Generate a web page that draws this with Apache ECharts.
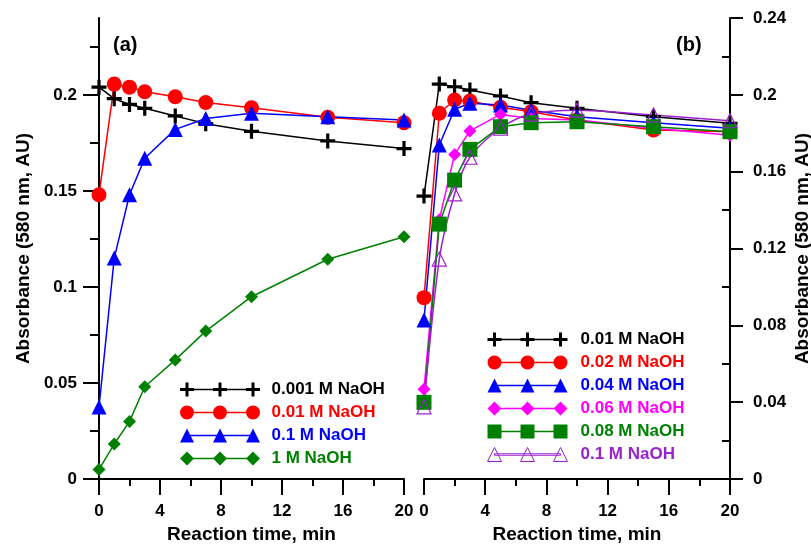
<!DOCTYPE html>
<html>
<head>
<meta charset="utf-8">
<script src="https://cdn.jsdelivr.net/npm/echarts@6/dist/echarts.min.js"></script>
<style>
  html, body { margin: 0; padding: 0; background: #fff; }
  #chart { width: 811px; height: 544px; }
</style>
</head>
<body>
<div id="chart"></div>
<script>
// reaction times (min), same for every run
var times = [0, 1, 2, 3, 5, 7, 10, 15, 20];

// panel (a)
var a_0001 = [0.204, 0.198, 0.195, 0.193, 0.189, 0.185, 0.181, 0.176, 0.172];
var a_001 = [0.148, 0.2056, 0.204, 0.2016, 0.199, 0.196, 0.1933, 0.1883, 0.1855];
var a_01 = [0.0375, 0.115, 0.148, 0.167, 0.182, 0.1877, 0.1904, 0.1886, 0.1869];
var a_1 = [0.005, 0.0182, 0.030, 0.048, 0.062, 0.077, 0.0949, 0.1144, 0.1261];

// panel (b)
var b_001 = [0.1473, 0.2056, 0.2042, 0.2025, 0.1994, 0.1959, 0.193, 0.1886, 0.1852];
var b_002 = [0.0944, 0.1904, 0.1973, 0.1968, 0.1935, 0.1912, 0.1869, 0.1817, 0.1808];
var b_004 = [0.0828, 0.1739, 0.1925, 0.1956, 0.1947, 0.192, 0.1886, 0.1855, 0.1826];
var b_006 = [0.0467, 0.135, 0.169, 0.1812, 0.1898, 0.1877, 0.1869, 0.1826, 0.179];
var b_008 = [0.0399, 0.1327, 0.1556, 0.1716, 0.1834, 0.1855, 0.186, 0.1834, 0.1808];
var b_01 = [0.0376, 0.1145, 0.1484, 0.1675, 0.1826, 0.19, 0.192, 0.1895, 0.1865];

// tick values
var leftMajor = [0, 0.05, 0.1, 0.15, 0.2];
var leftMinor = [0.025, 0.075, 0.125, 0.175, 0.225];
var rightMinor = [0.02, 0.06, 0.1, 0.14, 0.18, 0.22];

var FONT = 'Liberation Sans, Arial, sans-serif';
var purple = '#9a22cc';

var toPairs = function (vals) {
    return vals.map(function (v, i) { return [times[i], v]; });
};

// legend icons: line with three markers (80 x 14 box)
var iconPath = function (kind) {
    var s = 'path://M7,6.25H73V7.75H7Z';
    [7, 40, 73].forEach(function (c) {
        if (kind === 'plus') {
            s += 'M' + (c - 7) + ',5.5H' + (c + 7) + 'V8.5H' + (c - 7) + 'Z';
            s += 'M' + (c - 1.5) + ',0H' + (c + 1.5) + 'V14H' + (c - 1.5) + 'Z';
        } else if (kind === 'circle') {
            s += 'M' + (c - 7) + ',7A7,7 0 1,1 ' + (c + 7) + ',7A7,7 0 1,1 ' + (c - 7) + ',7Z';
        } else if (kind === 'triangle') {
            s += 'M' + c + ',0L' + (c + 7) + ',14L' + (c - 7) + ',14Z';
        } else if (kind === 'diamond') {
            s += 'M' + c + ',0L' + (c + 7) + ',7L' + c + ',14L' + (c - 7) + ',7Z';
        } else if (kind === 'rect') {
            s += 'M' + (c - 7) + ',0H' + (c + 7) + 'V14H' + (c - 7) + 'Z';
        }
    });
    return s;
};

var plusSymbol = 'path://M0,5.5H14V8.5H0Z M5.5,0H8.5V14H5.5Z';

var mkSeries = function (name, vals, color, symbol, size, grid, open) {
    return {
        name: name,
        type: 'line',
        xAxisIndex: grid,
        yAxisIndex: grid === 0 ? 0 : 2,
        data: toPairs(vals),
        symbol: symbol,
        symbolSize: size,
        smooth: open ? 0.3 : false,
        clip: false,
        lineStyle: { color: color, width: 1.5 },
        itemStyle: open
            ? { color: 'rgba(255,255,255,0)', borderColor: color, borderWidth: 1.2 }
            : { color: color, borderWidth: 0 }
    };
};

var legendItem = function (name, color, kind, open) {
    return {
        name: name,
        icon: iconPath(kind),
        itemStyle: open
            ? { color: 'rgba(255,255,255,0)', borderColor: color, borderWidth: 1 }
            : { color: color, borderWidth: 0 },
        textStyle: { color: color }
    };
};

var axisLine = { show: true, onZero: false, lineStyle: { color: '#000', width: 2 } };
var noLine = { show: false, onZero: false };
var nameStyle = { color: '#000', fontFamily: FONT, fontWeight: 'bold', fontSize: 19 };
var labelStyle = { color: '#000', fontFamily: FONT, fontWeight: 'bold', fontSize: 17 };

var xAxisFor = function (grid) {
    return {
        type: 'value', gridIndex: grid, min: 0, max: 20, interval: 4,
        name: 'Reaction time, min', nameLocation: 'middle', nameGap: 42,
        nameTextStyle: nameStyle,
        axisLine: axisLine,
        axisTick: { length: 16, lineStyle: { width: 2, color: '#000' } },
        minorTick: { show: true, splitNumber: 2, length: 7, lineStyle: { width: 2, color: '#000' } },
        axisLabel: Object.assign({ margin: 24 }, labelStyle),
        splitLine: { show: false }
    };
};

var legendBase = {
    orient: 'vertical',
    selectedMode: false,
    padding: 0,
    itemWidth: 83,
    itemHeight: 14,
    itemGap: 6,
    textStyle: { fontFamily: FONT, fontWeight: 'bold', fontSize: 17, lineHeight: 17, padding: [0, 0, 0, 5] }
};

var chart = echarts.init(document.getElementById('chart'));

var option = {
    animation: false,
    backgroundColor: '#fff',
    title: [
        { text: '(a)', left: 108, top: 30, textStyle: { fontFamily: FONT, fontWeight: 'bold', fontSize: 20, color: '#000' } },
        { text: '(b)', left: 671, top: 30, textStyle: { fontFamily: FONT, fontWeight: 'bold', fontSize: 20, color: '#000' } }
    ],
    grid: [
        { left: 99, top: 18, width: 305, height: 461, outerBoundsMode: 'none' },
        { left: 424, top: 18, width: 306, height: 461, outerBoundsMode: 'none' }
    ],
    xAxis: [xAxisFor(0), xAxisFor(1)],
    yAxis: [
        {
            type: 'value', gridIndex: 0, position: 'left', min: 0, max: 0.24,
            name: 'Absorbance (580 nm, AU)', nameLocation: 'middle', nameGap: 66,
            nameTextStyle: nameStyle,
            axisLine: axisLine,
            axisTick: { customValues: leftMajor, length: 16, lineStyle: { width: 2, color: '#000' } },
            axisLabel: Object.assign({ customValues: leftMajor, margin: 22 }, labelStyle),
            splitLine: { show: false }
        },
        {
            type: 'value', gridIndex: 0, position: 'left', min: 0, max: 0.24,
            axisLine: noLine,
            axisTick: { customValues: leftMinor, length: 9, lineStyle: { width: 2, color: '#000' } },
            axisLabel: { show: false },
            splitLine: { show: false }
        },
        {
            type: 'value', gridIndex: 1, position: 'right', min: 0, max: 0.24, interval: 0.04,
            name: 'Absorbance (580 nm, AU)', nameLocation: 'middle', nameGap: 63, nameRotate: 90,
            nameTextStyle: nameStyle,
            axisLine: axisLine,
            axisTick: { length: 13, lineStyle: { width: 2, color: '#000' } },
            axisLabel: Object.assign({ margin: 23 }, labelStyle),
            splitLine: { show: false }
        },
        {
            type: 'value', gridIndex: 1, position: 'right', min: 0, max: 0.24,
            axisLine: noLine,
            axisTick: { inside: true, customValues: rightMinor, length: 8, lineStyle: { width: 2, color: '#000' } },
            axisLabel: { show: false },
            splitLine: { show: false }
        }
    ],
    legend: [
        Object.assign({}, legendBase, {
            left: 180, top: 381,
            data: [
                legendItem('0.001 M NaOH', '#000', 'plus'),
                legendItem('0.01 M NaOH', '#ff0000', 'circle'),
                legendItem('0.1 M NaOH', '#0000ff', 'triangle'),
                legendItem('1 M NaOH', '#008000', 'diamond')
            ]
        }),
        Object.assign({}, legendBase, {
            left: 487, top: 331, itemWidth: 86,
            data: [
                legendItem('0.01 M NaOH ', '#000', 'plus'),
                legendItem('0.02 M NaOH', '#ff0000', 'circle'),
                legendItem('0.04 M NaOH', '#0000ff', 'triangle'),
                legendItem('0.06 M NaOH', '#ff00ff', 'diamond'),
                legendItem('0.08 M NaOH', '#008000', 'rect'),
                legendItem('0.1 M NaOH ', purple, 'triangle', true)
            ]
        })
    ],
    series: [
        mkSeries('0.001 M NaOH', a_0001, '#000', plusSymbol, 15, 0),
        mkSeries('0.01 M NaOH', a_001, '#ff0000', 'circle', 15, 0),
        mkSeries('0.1 M NaOH', a_01, '#0000ff', 'triangle', 15, 0),
        mkSeries('1 M NaOH', a_1, '#008000', 'diamond', 13, 0),

        mkSeries('0.01 M NaOH ', b_001, '#000', plusSymbol, 15, 1),
        mkSeries('0.02 M NaOH', b_002, '#ff0000', 'circle', 15, 1),
        mkSeries('0.04 M NaOH', b_004, '#0000ff', 'triangle', 15, 1),
        mkSeries('0.06 M NaOH', b_006, '#ff00ff', 'diamond', 13, 1),
        mkSeries('0.08 M NaOH', b_008, '#008000', 'rect', 15, 1),
        mkSeries('0.1 M NaOH ', b_01, purple, 'triangle', 14, 1, true)
    ]
};

chart.setOption(option);
</script>
</body>
</html>
